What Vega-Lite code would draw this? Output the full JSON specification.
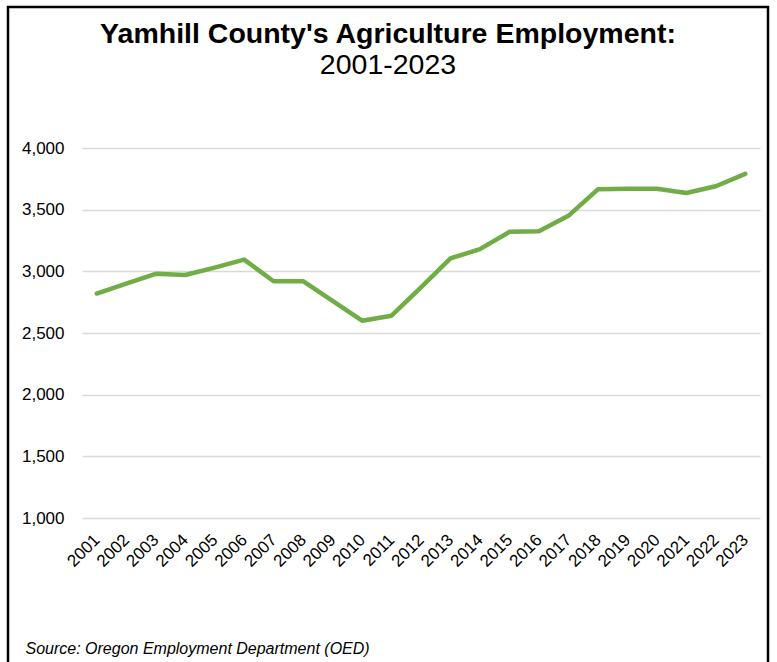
{
  "$schema": "https://vega.github.io/schema/vega-lite/v6.json",
  "autosize": "none",
  "padding": {"left": 8, "top": 7, "right": 9, "bottom": 0},
  "width": 760,
  "height": 657,
  "background": "white",
  "title": {
    "text": "Yamhill County's Agriculture Employment:",
    "subtitle": "2001-2023",
    "font": "Liberation Sans",
    "fontSize": 28.5,
    "fontWeight": "bold",
    "color": "#000000",
    "subtitleFont": "Liberation Sans",
    "subtitleFontSize": 28.5,
    "subtitleColor": "#000000",
    "subtitlePadding": 2,
    "anchor": "middle",
    "frame": "group",
    "offset": -72
  },
  "data": {
    "values": [
      {"year": "2001", "employment": 2820},
      {"year": "2002", "employment": 2900},
      {"year": "2003", "employment": 2980},
      {"year": "2004", "employment": 2970},
      {"year": "2005", "employment": 3030},
      {"year": "2006", "employment": 3095},
      {"year": "2007", "employment": 2920},
      {"year": "2008", "employment": 2920},
      {"year": "2009", "employment": 2760},
      {"year": "2010", "employment": 2600},
      {"year": "2011", "employment": 2640},
      {"year": "2012", "employment": 2870},
      {"year": "2013", "employment": 3105},
      {"year": "2014", "employment": 3180},
      {"year": "2015", "employment": 3320},
      {"year": "2016", "employment": 3325},
      {"year": "2017", "employment": 3450},
      {"year": "2018", "employment": 3665},
      {"year": "2019", "employment": 3670},
      {"year": "2020", "employment": 3670},
      {"year": "2021", "employment": 3635},
      {"year": "2022", "employment": 3690},
      {"year": "2023", "employment": 3790}
    ]
  },
  "mark": {"type": "line", "color": "#70AD47", "strokeWidth": 4.5, "strokeCap": "round", "strokeJoin": "round"},
  "encoding": {
    "x": {
      "field": "year",
      "type": "ordinal",
      "scale": {"type": "point", "range": [74, 752], "padding": 0.5},
      "axis": {
        "title": "Source: Oregon Employment Department (OED)",
        "titleFont": "Liberation Sans",
        "titleFontStyle": "italic",
        "titleFontWeight": "normal",
        "titleFontSize": 16,
        "titleColor": "#000000",
        "titleAnchor": "start",
        "titleAlign": "left",
        "titleBaseline": "alphabetic",
        "titleX": 17,
        "titleY": 135,
        "labelAngle": -45,
        "labelAlign": "right",
        "labelBaseline": "middle",
        "labelPadding": 19,
        "labelFont": "Liberation Sans",
        "labelFontSize": 17,
        "labelColor": "#000000",
        "labelOverlap": false,
        "ticks": false,
        "domain": false,
        "grid": false,
        "offset": -146
      }
    },
    "y": {
      "field": "employment",
      "type": "quantitative",
      "scale": {"domain": [1000, 4000], "range": [511, 141], "nice": false, "zero": false},
      "axis": {
        "title": null,
        "values": [1000, 1500, 2000, 2500, 3000, 3500, 4000],
        "format": ",.0f",
        "labelFont": "Liberation Sans",
        "labelFontSize": 17,
        "labelColor": "#000000",
        "labelPadding": 0,
        "ticks": false,
        "domain": false,
        "offset": -56,
        "grid": true,
        "gridColor": "#d9d9d9",
        "gridWidth": 1.5
      }
    }
  },
  "config": {"view": {"stroke": "#000000", "strokeWidth": 2.5}}
}
